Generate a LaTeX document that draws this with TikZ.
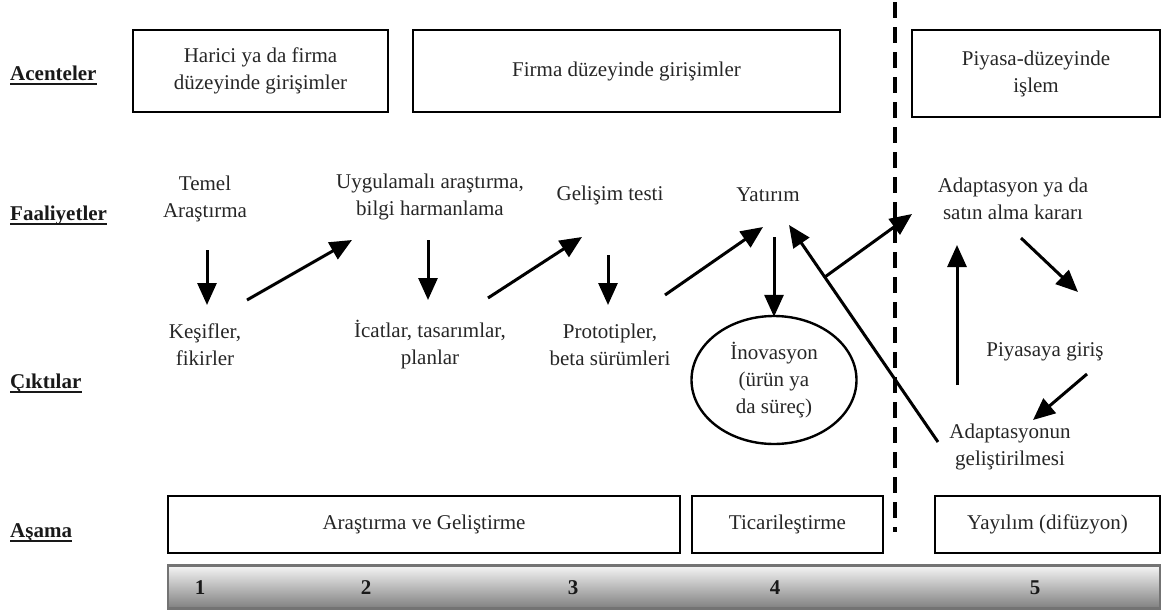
\documentclass[tikz,border=0pt]{standalone}
\usepackage{fontspec}
\setmainfont{Liberation Serif}
\usetikzlibrary{arrows.meta,shapes.geometric,calc}
\begin{document}
\begin{tikzpicture}[x=1pt,y=-1pt,
  every node/.style={font=\fontsize{21}{27}\selectfont, text=black!85},
  box/.style={draw=black, line width=2.4pt, align=center, inner sep=0pt},
  txt/.style={align=center, inner sep=1pt},
  lab/.style={anchor=base west, inner sep=0pt, font=\fontsize{21}{26}\selectfont\bfseries, text=black!90},
  uline/.style={line width=2pt, black!90},
  arr/.style={line width=3pt, -{Triangle[length=22pt,width=19pt]}},
  num/.style={font=\fontsize{21}{26}\selectfont\bfseries, text=black!90},
  divider/.style={line width=4pt, dash pattern=on 16pt off 9pt}
]
\useasboundingbox (0,0) rectangle (1165,613);

% row labels
\node[lab] (acl) at (10,80) {Acenteler};
\node[lab] (fal) at (10,220) {Faaliyetler};
\node[lab] (cil) at (10,388) {Çıktılar};
\node[lab] (asl) at (10,537) {Aşama};
\foreach \n in {acl,fal,cil,asl}
  \draw[uline] ([yshift=-4pt]\n.base west) -- ([yshift=-4pt]\n.base east);

% agent boxes
\node[box, minimum width=255pt, minimum height=82pt] (b1) at (260.5,71) {Harici ya da firma\\düzeyinde girişimler};
\node[box, minimum width=427pt, minimum height=82pt] (b2) at (626.5,71) {Firma düzeyinde girişimler};
\node[box, minimum width=248pt, minimum height=87pt] (b3) at (1036,73.5) {Piyasa-düzeyinde\\işlem};

% divider
\coordinate (dtop) at (895,2);
\coordinate (dbot) at (895,532);
\draw[divider] (dtop) -- (dbot);

% activities
\node[txt] (temel) at (205,199) {Temel\\Araştırma};
\node[txt] (uyg) at (430,197) {Uygulamalı araştırma,\\bilgi harmanlama};
\node[txt] (gel) at (610,195) {Gelişim testi};
\node[txt] (yat) at (768,195) {Yatırım};
\node[txt] (adapt) at (1013,199) {Adaptasyon ya da\\satın alma kararı};

% outputs
\node[txt] (kesif) at (205,345) {Keşifler,\\fikirler};
\node[txt] (icat) at (430,345) {İcatlar, tasarımlar,\\planlar};
\node[txt] (proto) at (610,345) {Prototipler,\\beta sürümleri};
\node[draw=black, line width=2.4pt, ellipse, minimum width=165pt, minimum height=128pt, align=center, inner sep=0pt] (inov) at (774,380) {İnovasyon\\(ürün ya\\da süreç)};
\node[txt] (piy) at (1045,352) {Piyasaya giriş};
\node[txt] (adg) at (1010,447) {Adaptasyonun\\geliştirilmesi};

% arrows
\draw[arr] ([shift={(2,51)}]temel.center) -- ([shift={(2,-40)}]kesif.center);
\draw[arr] ([shift={(42,-45)}]kesif.center) -- ([shift={(-78,43)}]uyg.center);
\draw[arr] ([shift={(-2,43)}]uyg.center) -- ([shift={(-2,-45)}]icat.center);
\draw[arr] ([shift={(58,-47)}]icat.center) -- ([shift={(-28,42)}]gel.center);
\draw[arr] ([shift={(-2,60)}]gel.center) -- ([shift={(-2,-40)}]proto.center);
\draw[arr] ([shift={(55,-50)}]proto.center) -- ([shift={(-5,32)}]yat.center);
\draw[arr] ([shift={(6,42)}]yat.center) -- ([yshift=-2pt]inov.north);
\coordinate (lt) at ([shift={(-72,-5)}]adg.center);
\coordinate (lh) at ([shift={(21,30)}]yat.center);
\draw[arr] (lt) -- (lh);
\draw[arr] ($(lh)!0.24!(lt)$) -- ([shift={(-101,15)}]adapt.center);
\draw[arr] ([shift={(-53,-62)}]adg.center) -- ([shift={(-56,46)}]adapt.center);
\draw[arr] ([shift={(8,39)}]adapt.center) -- ([shift={(33,-60)}]piy.center);
\draw[arr] ([shift={(42,22)}]piy.center) -- ([shift={(23,-27)}]adg.center);

% stage boxes
\node[box, minimum width=512pt, minimum height=57pt] (rd) at (424,524.5) {Araştırma ve Geliştirme};
\node[box, minimum width=191pt, minimum height=57pt] (tic) at (787.5,524.5) {Ticarileştirme};
\node[box, minimum width=225pt, minimum height=57pt] (yay) at (1047.5,524.5) {Yayılım (difüzyon)};

% bottom bar
\node[draw=black!55, line width=2.4pt, top color=white!96!black, bottom color=black!50, minimum width=992pt, minimum height=43pt, inner sep=0pt] (bar) at (664,587) {};
\node[num] (n1) at (200,588) {1};
\node[num] (n2) at (366,588) {2};
\node[num] (n3) at (573,588) {3};
\node[num] (n4) at (775,588) {4};
\node[num] (n5) at (1035,588) {5};
\end{tikzpicture}
\end{document}
